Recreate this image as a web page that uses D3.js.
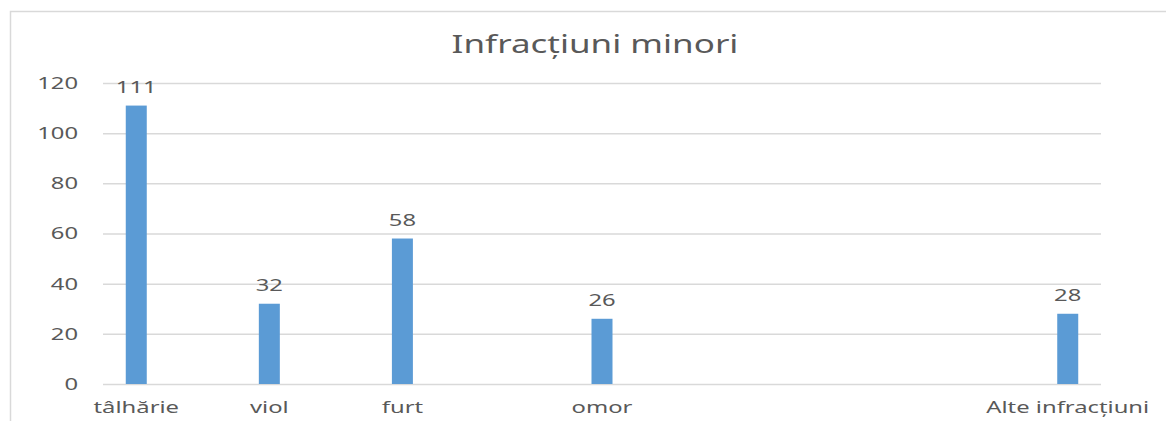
<!DOCTYPE html>
<html>
<head>
<meta charset="utf-8">
<script src="https://cdn.jsdelivr.net/npm/d3@7"></script>
<style>
  body { margin: 0; background: #fff; }
  text { font-family: "Noto Sans", "Open Sans", sans-serif; fill: #595959; }
</style>
</head>
<body>
<svg width="1166" height="421"></svg>
<script>
// date
var title = "Infracțiuni minori";
var categories = ["tâlhărie", "", "viol", "", "furt", "", "", "omor", "", "", "", "", "", "", "Alte infracțiuni"];
var values = [111, null, 32, null, 58, null, null, 26, null, null, null, null, null, null, 28];
var yTicks = [0, 20, 40, 60, 80, 100, 120];

var margin = {top: 83, right: 65, bottom: 37, left: 103};
var width = 1166 - margin.left - margin.right;
var height = 421 - margin.top - margin.bottom;
var sx = 1.4; // textul din original e lățit pe orizontală

var svg = d3.select('svg');

// chenar
svg.append('rect')
  .attr('x', 10.5).attr('y', 11.5)
  .attr('width', 1300).attr('height', 600)
  .attr('fill', 'none')
  .attr('stroke', '#d9d9d9')
  .attr('stroke-width', 1.5);

svg.append('text')
  .attr('transform', 'translate(595,53) scale(' + sx + ',1)')
  .attr('text-anchor', 'middle')
  .style('font-size', '25px')
  .text(title);

var g = svg.append('g')
  .attr('transform', 'translate(' + margin.left + ',' + margin.top + ')');

var xScale = d3.scaleBand().domain(d3.range(categories.length)).range([0, width]);
var yScale = d3.scaleLinear().domain([0, 120]).range([height, 0]);

// axa y + grila
var yAxis = g.append('g')
  .call(d3.axisLeft(yScale).tickValues(yTicks).tickSize(-width).tickPadding(0));
yAxis.select('.domain').remove();
yAxis.selectAll('line').attr('stroke', '#d9d9d9').attr('stroke-width', 1.5);
yAxis.selectAll('text')
  .attr('x', -25 / sx)
  .attr('transform', 'scale(' + sx + ',1)')
  .style('font-size', '17px')
  .attr('fill', '#595959');

// axa x
var xAxis = g.append('g')
  .attr('transform', 'translate(0,' + height + ')')
  .call(d3.axisBottom(xScale).tickFormat(i => categories[i]).tickSize(0));
xAxis.select('.domain').remove();
xAxis.selectAll('text')
  .attr('y', 29).attr('dy', 0)
  .attr('transform', 'scale(' + sx + ',1)')
  .style('font-size', '17px')
  .attr('fill', '#595959');
xAxis.selectAll('.tick').each(function(i) {
  var t = d3.select(this).select('text');
  t.attr('x', 0);
});

var data = values.map((v, i) => ({i: i, v: v})).filter(d => d.v != null);
var barW = 21;

g.selectAll('.bar')
  .data(data)
  .enter()
  .append('rect')
  .attr('class', 'bar')
  .attr('x', d => xScale(d.i) + xScale.bandwidth() / 2 - barW / 2)
  .attr('y', d => yScale(d.v))
  .attr('width', barW)
  .attr('height', d => height - yScale(d.v))
  .attr('fill', '#5b9bd5');

g.selectAll('.lbl')
  .data(data)
  .enter()
  .append('text')
  .attr('class', 'lbl')
  .attr('transform', d => 'translate(' + (xScale(d.i) + xScale.bandwidth() / 2) + ',' + (yScale(d.v) - 12.5) + ') scale(' + sx + ',1)')
  .attr('text-anchor', 'middle')
  .style('font-size', '17px')
  .text(d => d.v);
</script>
</body>
</html>
